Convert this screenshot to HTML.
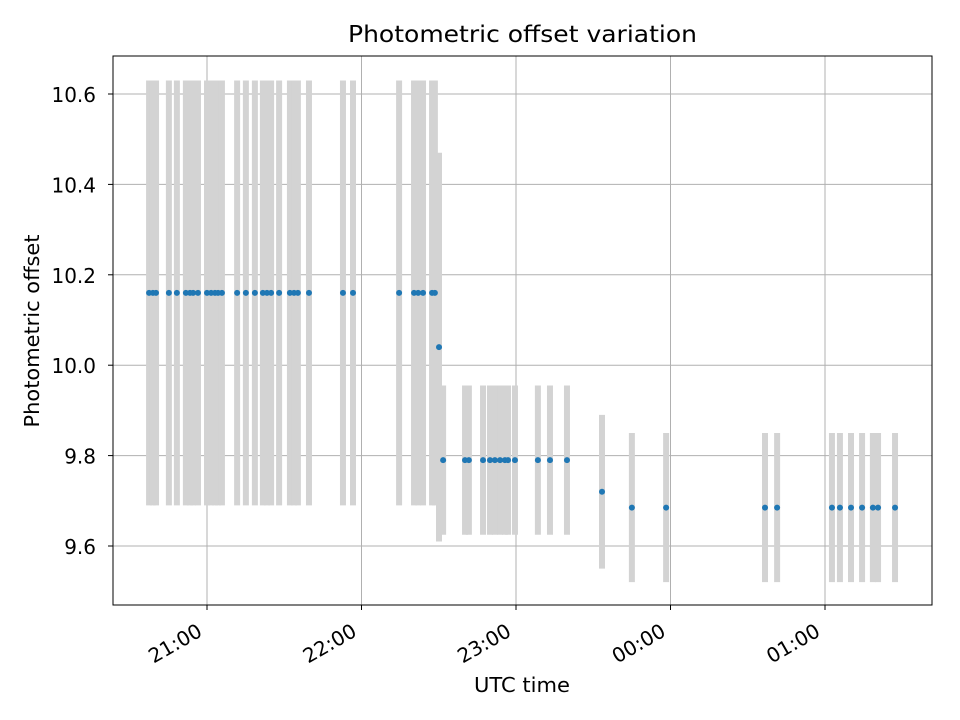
<!DOCTYPE html>
<html><head><meta charset="utf-8"><style>
body{margin:0;background:#fff;}
svg{display:block;font-family:"DejaVu Sans","Liberation Sans",sans-serif;}
</style></head><body>
<svg id="chart" width="960" height="720">
<rect x="0" y="0" width="960" height="720" fill="#fff"/>
<g id="grid"></g><g id="bars"></g><g id="pts"></g><g id="axes"></g>
<text x="522.5" y="42" text-anchor="middle" font-size="23" textLength="349" lengthAdjust="spacingAndGlyphs">Photometric offset variation</text>
<text x="522" y="692" text-anchor="middle" font-size="20" textLength="96" lengthAdjust="spacingAndGlyphs">UTC time</text>
<text transform="translate(39,331) rotate(-90)" text-anchor="middle" font-size="20" textLength="193" lengthAdjust="spacingAndGlyphs">Photometric offset</text>
</svg>
<script>
// minutes since 20:00 UTC
const times=[37.5,39.0,40.2,45.2,48.3,51.8,53.4,54.6,56.5,60,61.6,63.1,64.3,65.8,71.7,75.1,78.6,81.7,83.3,84.9,88.0,92.2,93.8,95.3,99.6,112.8,116.7,134.6,140.4,142.0,143.9,147.4,148.5,150.1,151.7,160.2,161.7,167.2,169.9,171.8,173.8,175.7,176.9,179.6,188.5,193.2,199.8,213.4,225.0,238.3,276.7,281.4,302.7,305.8,310.1,314.4,318.6,320.6,327.2];
const offsets=[];const errors=[];
for(let i=0;i<times.length;i++){
  if(i<33){offsets.push(10.16);errors.push(0.47);}
  else if(i===33){offsets.push(10.04);errors.push(0.43);}
  else if(i<47){offsets.push(9.79);errors.push(0.165);}
  else if(i===47){offsets.push(9.72);errors.push(0.17);}
  else {offsets.push(9.685);errors.push(0.165);}
}
const yTicks=[9.6,9.8,10.0,10.2,10.4,10.6];
const yLabels=["9.6","9.8","10.0","10.2","10.4","10.6"];
const xTicks=[60,120,180,240,300];
const xLabels=["21:00","22:00","23:00","00:00","01:00"];

const L=113,R=932,T=56,B=605;
const xs=m=>207+(m-60)*2.575;
const ys=v=>546-(v-9.6)*452;
const NS="http://www.w3.org/2000/svg";
function mk(tag,attrs,parent){const e=document.createElementNS(NS,tag);for(const k in attrs)e.setAttribute(k,attrs[k]);document.getElementById(parent).appendChild(e);return e;}

yTicks.forEach((v,i)=>{
  const g=mk('line',{x1:L,x2:R,y1:ys(v),y2:ys(v),stroke:'#b0b0b0','stroke-width':1},'grid');
  
  
  mk('line',{x1:L-5,x2:L,y1:ys(v),y2:ys(v),stroke:'#000'},'axes');
  const t=mk('text',{x:96,y:ys(v)+8,'text-anchor':'end','font-size':20},'axes');
  t.textContent=yLabels[i];
  
  
});
xTicks.forEach((m,i)=>{
  const g=mk('line',{x1:xs(m),x2:xs(m),y1:T,y2:B,stroke:'#b0b0b0','stroke-width':1},'grid');
  
  
  mk('line',{x1:xs(m),x2:xs(m),y1:B,y2:B+5,stroke:'#000'},'axes');
  const t=mk('text',{transform:`translate(${xs(m)-11},622) rotate(-30)`,'text-anchor':'end','font-size':20,y:15},'axes');
  t.textContent=xLabels[i];
  
  
});
mk('rect',{x:L,y:T,width:R-L,height:B-T,fill:'none',stroke:'#000','stroke-width':1},'axes');

times.forEach((m,i)=>{
  const b=mk('line',{x1:xs(m),x2:xs(m),y1:ys(offsets[i]+errors[i]),y2:ys(offsets[i]-errors[i]),stroke:'#d3d3d3','stroke-width':6},'bars');
  
  
  const c=mk('circle',{cx:xs(m),cy:ys(offsets[i]),r:3,fill:'#1f77b4'},'pts');
  
  
});
</script>
</body></html>
